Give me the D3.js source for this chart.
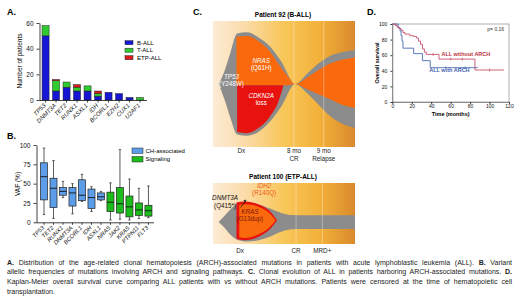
<!DOCTYPE html>
<html>
<head>
<meta charset="utf-8">
<script src="https://cdn.jsdelivr.net/npm/d3@7"></script>
<style>
body { margin: 0; background: #fff; }
svg text { font-family: "Liberation Sans", Arial, sans-serif; }
</style>
</head>
<body>
<svg id="fig" width="520" height="300"></svg>
<script>
// ---- panel A data
const genes = ['TP53', 'DNMT3A', 'TET2', 'RUNX1', 'ASXL1', 'IDH', 'BCORL1', 'EZH2', 'CUX1', 'U2AF1'];
const bAll = [50, 7, 10, 7, 7, 3, 6, 5, 2, 0];
const tAll = [8, 8, 4, 3, 4, 2, 0, 0, 0, 2];
const etpAll = [0, 1, 0, 2, 0, 2, 0, 0, 0, 0];
const subtypes = ['B-ALL', 'T-ALL', 'ETP-ALL'];
const subtypeColors = ['#1616d4', '#2fcc2f', '#dd1b1b'];
const countTicks = [0, 20, 40, 60];

// ---- panel B data
const vafGenes = ['TP53', 'TET2', 'RUNX1', 'DNMT3A', 'BCORL1', 'IDH', 'ASXL1', 'NRAS', 'JAK2', 'KRAS', 'PTPN11', 'FLT3'];
const vafGroup = ['CH', 'CH', 'CH', 'CH', 'CH', 'CH', 'CH', 'Sig', 'Sig', 'Sig', 'Sig', 'Sig'];
const vafMin = [10, 5, 32, 11, 27, 14, 28, 3, 4, 3, 5, 6];
const vafQ1 = [29, 19, 35, 21, 28, 18, 29, 14, 12, 7, 9, 8];
const vafMed = [59, 44, 40, 38, 35, 32, 33, 26, 24, 20, 16, 15];
const vafQ3 = [77, 57, 45, 45, 55, 43, 38, 39, 45, 34, 25, 22];
const vafMax = [96, 80, 53, 50, 62, 46, 40, 51, 94, 56, 44, 47];
const vafTicks = [0, 25, 50, 75, 100];
const groupNames = ['CH-associated', 'Signaling'];
const groupColors = { CH: '#5b9de8', Sig: '#1cbc1c' };

// ---- panel C data (time 0-100 across panel, clone edges 0-100 top to bottom)
const p92Gray = { t: [4, 8, 12, 17, 24, 32, 40, 48, 58, 66, 74, 82, 90, 100],
  top: [50, 40, 26, 10, 9, 13, 20, 32, 50, 42, 34, 28, 25, 23],
  bot: [50, 62, 76, 90, 91, 88, 80, 68, 50, 57, 66, 75, 81, 85] };
const p92Nras = { t: [16.5, 24, 32, 40, 46, 52, 58, 66, 74, 82, 90, 100],
  top: [12.5, 12, 16, 24, 34, 43, 50, 45, 39, 34, 31, 29],
  bot: [51, 51, 51, 51, 51, 51, 50, 54, 58, 62, 66, 69] };
const p92Cdkn = { t: [17, 24, 32, 40, 46, 49.5],
  top: [51, 51, 51, 51, 51, 51],
  bot: [88, 89, 85, 76, 64, 51.5] };
const p100Gray = { t: [4, 8, 12, 17, 24, 32, 40, 48, 56, 65, 80, 100],
  top: [64, 54, 44, 34, 32, 35, 42, 49, 52.5, 53, 53, 53],
  bot: [64, 73, 84, 93, 96, 94, 88, 80, 76, 75.4, 75.4, 75.4] };
const p100Idh = { t: [16.5, 22, 28, 34, 40, 45],
  top: [32, 30.5, 32, 37, 46, 61],
  bot: [92, 94, 92, 86, 76, 62] };
const p100Kras = { t: [18.5, 22, 28, 34, 40, 44],
  top: [36, 35, 36, 41, 50, 61],
  bot: [89, 90, 88, 82, 72, 61.5] };
const p92Times = [20, 57, 78];
const p92Labels = [['Dx'], ['8 mo', 'CR'], ['9 mo', 'Relapse']];
const p100Times = [19, 58.5, 77];
const p100Labels = [['Dx'], ['CR'], ['MRD+']];

// ---- panel D data (Kaplan-Meier)
const kmNoTime = [0, 3, 5, 7, 9, 11, 13, 18, 22, 25, 27, 29, 31, 33, 35, 48, 85, 115];
const kmNoSurv = [100, 98, 96, 94, 92, 89, 87, 85, 84, 82, 78, 74, 68, 64, 61, 55, 41, 41];
const kmWithTime = [0, 6, 8, 9, 10, 11, 22, 31, 39, 88];
const kmWithSurv = [100, 95, 91, 85, 78, 69, 62, 53, 44, 44];
const kmNoCensor = [42, 60, 72, 100];
const kmWithCensor = [55, 75];
const monthTicks = [0, 20, 40, 60, 80, 100, 120];
const survTicks = [0, 20, 40, 60, 80, 100];

const svg = d3.select('#fig');

function styleAxis(g, size) {
  g.selectAll('text').style('font-size', (size || 6) + 'px').attr('fill', '#111');
  g.selectAll('line').attr('stroke', '#111').attr('stroke-width', 0.8);
  g.select('.domain').attr('stroke', '#111').attr('stroke-width', 0.8);
}

// panel letters
[['A.', 7, 15], ['B.', 7, 139], ['C.', 193, 15], ['D.', 367, 15]].forEach(d => {
  svg.append('text').attr('x', d[1]).attr('y', d[2]).text(d[0])
    .style('font-size', '9px').style('font-weight', 'bold');
});

// ================= A
const xA = d3.scaleBand().domain(genes).range([41, 144.6]).paddingInner(0.33).paddingOuter(0.1);
const yA = d3.scaleLinear().domain([0, 60]).range([100, 23]);
const gA = svg.append('g');
const rowsA = genes.map((g, i) => ({ gene: g, 'B-ALL': bAll[i], 'T-ALL': tAll[i], 'ETP-ALL': etpAll[i] }));
const stackA = d3.stack().keys(subtypes)(rowsA);

gA.selectAll('g.layer').data(stackA).join('g')
  .attr('class', 'layer')
  .attr('fill', (d, i) => subtypeColors[i])
  .selectAll('rect').data(d => d.filter(s => s[1] > s[0])).join('rect')
    .attr('x', d => xA(d.data.gene))
    .attr('y', d => yA(d[1]))
    .attr('width', xA.bandwidth())
    .attr('height', d => yA(d[0]) - yA(d[1]))
    .attr('stroke', '#222')
    .attr('stroke-width', 0.5);

gA.append('g')
  .attr('transform', 'translate(39.5,0)')
  .call(d3.axisLeft(yA).tickValues(countTicks).tickSize(3).tickSizeOuter(0))
  .call(g => styleAxis(g, 6.5));

const xAxA = gA.append('g')
  .attr('transform', 'translate(0,100.5)')
  .call(d3.axisBottom(xA).tickSize(2).tickSizeOuter(0))
  .call(g => styleAxis(g, 6));
xAxA.select('.domain').attr('d', 'M39.5,0H147');
xAxA.selectAll('text')
  .attr('x', 0).attr('y', 0).attr('dy', '0.35em')
  .attr('transform', 'translate(-1,4) rotate(-45)')
  .attr('text-anchor', 'end')
  .style('font-style', 'italic');

svg.append('text')
  .attr('transform', 'translate(22,61) rotate(-90)')
  .attr('text-anchor', 'middle')
  .style('font-size', '6.5px')
  .text('Number of patients');

const legA = svg.append('g').selectAll('g').data(subtypes).join('g')
  .attr('transform', (d, i) => `translate(125,${40.7 + i * 7.5})`);
legA.append('rect').attr('width', 8).attr('height', 4)
  .attr('fill', (d, i) => subtypeColors[i]).attr('stroke', '#222').attr('stroke-width', 0.5);
legA.append('text').attr('x', 12).attr('y', 2).attr('dy', '0.35em')
  .style('font-size', '6px').text(d => d);

// ================= B
const xB = d3.scaleBand().domain(vafGenes).range([37.65, 154.8]).paddingInner(0.26).paddingOuter(0.3);
const yB = d3.scaleLinear().domain([0, 100]).range([222.3, 145]);
const gB = svg.append('g');
const boxes = vafGenes.map((g, i) => ({ gene: g, group: vafGroup[i], min: vafMin[i], q1: vafQ1[i], med: vafMed[i], q3: vafQ3[i], max: vafMax[i] }));
const bw = xB.bandwidth();
const boxG = gB.selectAll('g.box').data(boxes).join('g')
  .attr('class', 'box')
  .attr('transform', d => `translate(${xB(d.gene)},0)`);
boxG.append('line').attr('x1', bw / 2).attr('x2', bw / 2)
  .attr('y1', d => yB(d.max)).attr('y2', d => yB(d.min))
  .attr('stroke', '#333').attr('stroke-width', 0.8);
boxG.append('line').attr('x1', bw / 2 - 1.2).attr('x2', bw / 2 + 1.2)
  .attr('y1', d => yB(d.max)).attr('y2', d => yB(d.max))
  .attr('stroke', '#333').attr('stroke-width', 0.8);
boxG.append('line').attr('x1', bw / 2 - 1.2).attr('x2', bw / 2 + 1.2)
  .attr('y1', d => yB(d.min)).attr('y2', d => yB(d.min))
  .attr('stroke', '#333').attr('stroke-width', 0.8);
boxG.append('rect').attr('x', 0).attr('width', bw)
  .attr('y', d => yB(d.q3)).attr('height', d => yB(d.q1) - yB(d.q3))
  .attr('fill', d => groupColors[d.group]).attr('stroke', '#222').attr('stroke-width', 0.7);
boxG.append('line').attr('x1', 0).attr('x2', bw)
  .attr('y1', d => yB(d.med)).attr('y2', d => yB(d.med))
  .attr('stroke', '#111').attr('stroke-width', 0.9);

gB.append('g')
  .attr('transform', 'translate(36.5,0)')
  .call(d3.axisLeft(yB).tickValues(vafTicks).tickSize(3).tickSizeOuter(0))
  .call(g => styleAxis(g, 6.5));
const xAxB = gB.append('g')
  .attr('transform', 'translate(0,222.8)')
  .call(d3.axisBottom(xB).tickSize(2).tickSizeOuter(0))
  .call(g => styleAxis(g, 5.8));
xAxB.select('.domain').attr('d', 'M36.5,0H154');
xAxB.selectAll('text')
  .attr('x', 0).attr('y', 0).attr('dy', '0.35em')
  .attr('transform', 'translate(-1,4) rotate(-45)')
  .attr('text-anchor', 'end')
  .style('font-style', 'italic');

svg.append('text')
  .attr('transform', 'translate(20,184) rotate(-90)')
  .attr('text-anchor', 'middle')
  .style('font-size', '6.5px')
  .text('VAF (%)');

const legB = svg.append('g').selectAll('g').data(groupNames).join('g')
  .attr('transform', (d, i) => `translate(132,${148 + i * 8.5})`);
legB.append('rect').attr('width', 11).attr('height', 5.5)
  .attr('fill', (d, i) => i === 0 ? groupColors.CH : groupColors.Sig)
  .attr('stroke', '#222').attr('stroke-width', 0.5);
legB.append('text').attr('x', 13.5).attr('y', 2.75).attr('dy', '0.35em')
  .style('font-size', '6px').text(d => d);

// ================= C
const xC = d3.scaleLinear().domain([0, 100]).range([213, 355]);
const defs = svg.append('defs');
const grad = defs.append('linearGradient').attr('id', 'bg').attr('x1', '0%').attr('x2', '100%');
[[0, '#fdebd6'], [0.22, '#fbdcaa'], [0.5, '#f8c659'], [0.75, '#f3b13a'], [1, '#d98a2c']]
  .forEach(s => grad.append('stop').attr('offset', s[0]).attr('stop-color', s[1]));

function zipClone(c) {
  return c.t.map((t, i) => ({ t: t, top: c.top[i], bot: c.bot[i] }));
}

function fishPanel(yRange, clones, times, labels, lineTimes, title, labelY) {
  const y = d3.scaleLinear().domain([0, 100]).range(yRange);
  const g = svg.append('g');
  g.append('rect').attr('x', xC(0)).attr('y', y(0))
    .attr('width', xC(100) - xC(0)).attr('height', y(100) - y(0))
    .attr('fill', 'url(#bg)');
  const area = d3.area().x(d => xC(d.t)).y0(d => y(d.top)).y1(d => y(d.bot)).curve(d3.curveMonotoneX);
  clones.forEach(c => {
    g.append('path').datum(zipClone(c.data)).attr('d', area).attr('fill', c.color);
  });
  lineTimes.forEach(t => {
    g.append('line').attr('x1', xC(t)).attr('x2', xC(t)).attr('y1', y(0)).attr('y2', y(100))
      .attr('stroke', '#fff').attr('stroke-opacity', 0.35).attr('stroke-width', 1);
  });
  times.forEach((t, i) => {
    labels[i].forEach((s, j) => {
      g.append('text').attr('x', xC(t)).attr('y', labelY + j * 8)
        .attr('text-anchor', 'middle').style('font-size', '6.3px').attr('fill', '#222').text(s);
    });
  });
  g.append('text').attr('x', 283).attr('y', y(0) - 4).attr('text-anchor', 'middle')
    .style('font-size', '6.5px').style('font-weight', 'bold').text(title);
  return y;
}

const yC1 = fishPanel([21, 147], [
  { data: p92Gray, color: '#8c8c8c' },
  { data: p92Nras, color: '#fa6a0c' },
  { data: p92Cdkn, color: '#e8130f' }
], p92Times, p92Labels, [57, 78], 'Patient 92 (B-ALL)', 153);

function cloneLabel(x, y, lines, color, size) {
  lines.forEach((s, j) => {
    svg.append('text').attr('x', x).attr('y', y + j * 7.5).attr('text-anchor', 'middle')
      .style('font-size', (size || 6.3) + 'px').style('font-style', j === 0 ? 'italic' : 'normal')
      .attr('fill', color).text(s);
  });
}
cloneLabel(xC(13), yC1(46), ['TP53', '(Y248W)'], '#fff');
cloneLabel(xC(34), yC1(33), ['NRAS', '(Q61H)'], '#fff');
cloneLabel(xC(34), yC1(61), ['CDKN2A', 'loss'], '#fff');

const yC2 = fishPanel([183, 244], [
  { data: p100Gray, color: '#8c8c8c' },
  { data: p100Idh, color: '#e8130f' },
  { data: p100Kras, color: '#fa6a0c' }
], p100Times, p100Labels, [58.5, 77], 'Patient 100 (ETP-ALL)', 252.5);

cloneLabel(xC(8.5), yC2(28), ['DNMT3A', '(Q415*)'], '#111');
cloneLabel(xC(36), yC2(8), ['IDH2', '(R140Q)'], '#ee5a14');
cloneLabel(xC(26), yC2(50), ['KRAS', '(G13dup)'], '#7a1608');
svg.append('line').attr('x1', xC(19.5)).attr('y1', yC2(40)).attr('x2', xC(23)).attr('y2', yC2(29))
  .attr('stroke', '#111').attr('stroke-width', 0.8);
svg.append('path')
  .attr('d', `M${xC(23)},${yC2(27)} l-2.2,1.2 l2.4,1.6 z`)
  .attr('fill', '#111');

// ================= D
const xD = d3.scaleLinear().domain([0, 120]).range([392.3, 509]);
const yD = d3.scaleLinear().domain([0, 100]).range([102, 24]);
const gD = svg.append('g');
gD.append('rect').attr('x', xD(0)).attr('y', yD(100))
  .attr('width', xD(120) - xD(0)).attr('height', yD(0) - yD(100))
  .attr('fill', 'none').attr('stroke', '#777').attr('stroke-width', 0.6);
gD.append('g').attr('transform', `translate(${xD(0)},0)`)
  .call(d3.axisLeft(yD).tickValues(survTicks).tickSize(2).tickSizeOuter(0))
  .call(g => styleAxis(g, 5));
gD.append('g').attr('transform', `translate(0,${yD(0)})`)
  .call(d3.axisBottom(xD).tickValues(monthTicks).tickSize(2).tickSizeOuter(0))
  .call(g => styleAxis(g, 5))
  .call(g => g.selectAll('text').attr('y', 2.6));
gD.selectAll('.domain').attr('stroke', '#777');

const step = d3.line().x(d => xD(d[0])).y(d => yD(d[1])).curve(d3.curveStepAfter);
const kmNo = kmNoTime.map((t, i) => [t, kmNoSurv[i]]);
const kmWith = kmWithTime.map((t, i) => [t, kmWithSurv[i]]);
gD.append('path').datum(kmWith).attr('d', step).attr('fill', 'none')
  .attr('stroke', '#4a6cb8').attr('stroke-width', 0.9);
gD.append('path').datum(kmNo).attr('d', step).attr('fill', 'none')
  .attr('stroke', '#c2405a').attr('stroke-width', 0.9).attr('stroke-opacity', 0.9);

function survAt(times, survs, t) {
  let s = survs[0];
  times.forEach((tt, i) => { if (tt <= t) s = survs[i]; });
  return s;
}
gD.selectAll('line.cn').data(kmNoCensor).join('line').attr('class', 'cn')
  .attr('x1', d => xD(d)).attr('x2', d => xD(d))
  .attr('y1', d => yD(survAt(kmNoTime, kmNoSurv, d)) - 1.5)
  .attr('y2', d => yD(survAt(kmNoTime, kmNoSurv, d)) + 1.5)
  .attr('stroke', '#c2405a').attr('stroke-width', 0.6);
gD.selectAll('line.cw').data(kmWithCensor).join('line').attr('class', 'cw')
  .attr('x1', d => xD(d)).attr('x2', d => xD(d))
  .attr('y1', d => yD(survAt(kmWithTime, kmWithSurv, d)) - 1.5)
  .attr('y2', d => yD(survAt(kmWithTime, kmWithSurv, d)) + 1.5)
  .attr('stroke', '#4a6cb8').attr('stroke-width', 0.6);

gD.append('text').attr('x', xD(115)).attr('y', yD(91)).attr('text-anchor', 'end')
  .style('font-size', '5px').attr('fill', '#333').text('p= 0.16');
gD.append('text').attr('x', xD(50.5)).attr('y', yD(59)).style('font-size', '5.5px')
  .style('font-weight', 'bold').attr('fill', '#c0303f').text('ALL without ARCH');
gD.append('text').attr('x', xD(38)).attr('y', yD(38.5)).style('font-size', '5.5px')
  .style('font-weight', 'bold').attr('fill', '#3f62b0').text('ALL with ARCH');
gD.append('text').attr('x', (xD(0) + xD(120)) / 2).attr('y', 115.5).attr('text-anchor', 'middle')
  .style('font-size', '5.5px').style('font-weight', 'bold').text('Time (months)');
gD.append('text').attr('transform', `translate(378.5,${yD(50)}) rotate(-90)`).attr('text-anchor', 'middle')
  .style('font-size', '5.5px').style('font-weight', 'bold').text('Overall survival');

// ================= caption
const caption = [
  [['A.', true], [' Distribution of the age-related clonal hematopoiesis (ARCH)-associated mutations in patients with acute lymphoblastic leukemia (ALL). ', false], ['B.', true], [' Variant', false]],
  [['allelic frequencies of mutations involving ARCH and signaling pathways. ', false], ['C.', true], [' Clonal evolution of ALL in patients harboring ARCH-associated mutations. ', false], ['D.', true]],
  [['Kaplan-Meier overall survival curve comparing ALL patients with vs without ARCH mutations. Patients were censored at the time of hematopoietic cell', false]],
  [['transplantation.', false]]
];
caption.forEach((line, i) => {
  const t = svg.append('text').attr('x', 7).attr('y', 264.5 + i * 9.7)
    .style('font-size', '7px').attr('fill', '#222');
  line.forEach(seg => {
    t.append('tspan').text(seg[0]).style('font-weight', seg[1] ? 'bold' : 'normal');
  });
  if (i < caption.length - 1) {
    const natural = t.node().getComputedTextLength();
    const spaces = line.map(s => s[0]).join('').split(' ').length - 1;
    t.style('word-spacing', ((512 - 7 - natural) / spaces) + 'px');
  }
});
</script>
</body>
</html>
